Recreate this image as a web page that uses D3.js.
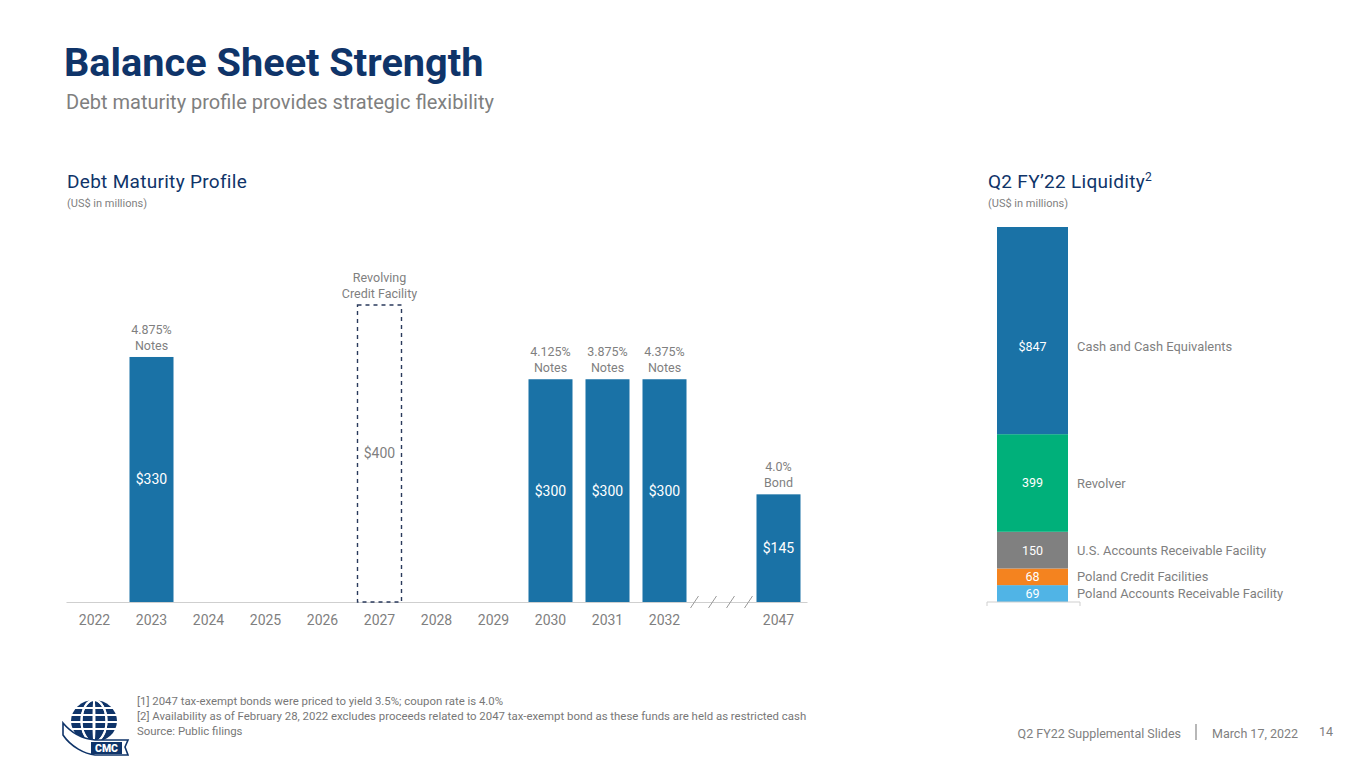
<!DOCTYPE html>
<html><head><meta charset="utf-8">
<script src="https://cdn.jsdelivr.net/npm/d3@7"></script>
<style>
html,body{margin:0;padding:0;background:#fff;}
svg{display:block;font-family:Roboto, "Open Sans", sans-serif;}
</style></head>
<body>
<svg id="c" width="1365" height="768"></svg>
<script>
// ---- data ----
const years = ["2022","2023","2024","2025","2026","2027","2028","2029","2030","2031","2032","break","2047"];
const debtYears = ["2023","2027","2030","2031","2032","2047"];
const debtValues = [330, 400, 300, 300, 300, 145];
const debtLabels = ["$330","$400","$300","$300","$300","$145"];
const debtNotes = [["4.875%","Notes"],["Revolving","Credit Facility"],["4.125%","Notes"],["3.875%","Notes"],["4.375%","Notes"],["4.0%","Bond"]];
const debtIsRevolver = [false,true,false,false,false,false];

const liqNames = ["Poland Accounts Receivable Facility","Poland Credit Facilities","U.S. Accounts Receivable Facility","Revolver","Cash and Cash Equivalents"];
const liqValues = [69, 68, 150, 399, 847];
const liqLabels = ["69","68","150","399","$847"];
const liqColors = ["#50b4e6","#f4831f","#808080","#00b07a","#1a72a6"];

const footnotes = ["[1] 2047 tax-exempt bonds were priced to yield 3.5%; coupon rate is 4.0%",
 "[2] Availability as of February 28, 2022 excludes proceeds related to 2047 tax-exempt bond as these funds are held as restricted cash",
 "Source: Public filings"];

const svg = d3.select("#c");
const NAVY = "#0f3469", GRAY = "#7f7f7f", BLUE = "#1a72a6";

// ---- titles ----
svg.append("text").attr("x",64).attr("y",76).attr("font-size",39.7).attr("font-weight",700).attr("fill",NAVY).text("Balance Sheet Strength");
svg.append("text").attr("x",66).attr("y",109).attr("font-size",20).attr("fill",GRAY).text("Debt maturity profile provides strategic flexibility");

svg.append("text").attr("x",67).attr("y",188).attr("font-size",19).attr("fill",NAVY).attr("letter-spacing",0.3).text("Debt Maturity Profile");
svg.append("text").attr("x",67).attr("y",207).attr("font-size",11).attr("fill",GRAY).text("(US$ in millions)");

const lt = svg.append("text").attr("x",988).attr("y",188).attr("font-size",19).attr("fill",NAVY).attr("letter-spacing",0.3);
lt.append("tspan").text("Q2 FY\u201922 Liquidity");
lt.append("tspan").attr("font-size",12).attr("dy",-7).text("2");
svg.append("text").attr("x",988).attr("y",207).attr("font-size",11).attr("fill",GRAY).text("(US$ in millions)");

// ---- left chart ----
const x = d3.scaleBand().domain(years).range([66,807]).paddingInner(0.228).paddingOuter(0.114);
const y = d3.scaleLinear().domain([0,400]).range([602,305]);

const ax = svg.append("g").attr("transform","translate(0,602)")
  .call(d3.axisBottom(x).tickSize(0).tickPadding(13).tickFormat(d => d==="break" ? "" : d));
ax.select(".domain").attr("stroke","#cfcfcf").attr("stroke-width",1);
ax.selectAll("text").attr("font-size",14).attr("fill",GRAY).attr("font-family","Roboto, sans-serif");

// break slashes
const bc = x("break") + x.bandwidth()/2;
[-1.5,-0.5,0.5,1.5].forEach(k => {
  const cx = bc + k*18;
  svg.append("line").attr("x1",cx-4).attr("y1",608).attr("x2",cx+4).attr("y2",596)
    .attr("stroke","#9a9a9a").attr("stroke-width",1);
});

const bars = svg.append("g");
debtYears.forEach((yr,i) => {
  const v = debtValues[i];
  const bxp = x(yr), w = x.bandwidth();
  if (debtIsRevolver[i]) {
    bars.append("rect").attr("x",bxp).attr("y",y(v)).attr("width",w).attr("height",y(0)-y(v))
      .attr("fill","none").attr("stroke","#2a3a5c").attr("stroke-width",1.4).attr("stroke-dasharray","4,4");
  } else {
    bars.append("rect").attr("x",bxp).attr("y",y(v)).attr("width",w).attr("height",y(0)-y(v)).attr("fill",BLUE);
  }
  bars.append("text").attr("x",bxp+w/2).attr("y",(y(v)+y(0))/2).attr("dy","0.35em")
    .attr("text-anchor","middle").attr("font-size",14).attr("fill",debtIsRevolver[i]?GRAY:"#fff").text(debtLabels[i]);
  debtNotes[i].forEach((t,j) => {
    bars.append("text").attr("x",bxp+w/2).attr("y",y(v)-7-(1-j)*16)
      .attr("text-anchor","middle").attr("font-size",12.5).attr("fill",GRAY).text(t);
  });
});

// ---- right chart (stacked) ----
const total = d3.sum(liqValues);
const y2 = d3.scaleLinear().domain([0,total]).range([602,227]);
const bx2 = 997, bw2 = 71;
let cum = 0;
const rg = svg.append("g");
liqValues.forEach((v,i) => {
  const y0 = y2(cum), y1 = y2(cum+v);
  rg.append("rect").attr("x",bx2).attr("y",y1).attr("width",bw2).attr("height",y0-y1).attr("fill",liqColors[i]);
  const mid = (y0+y1)/2 + (i===liqValues.length-1 ? 16 : 0);
  rg.append("text").attr("x",bx2+bw2/2).attr("y",mid).attr("dy","0.35em").attr("text-anchor","middle")
    .attr("font-size",12.5).attr("fill","#fff").text(liqLabels[i]);
  rg.append("text").attr("x",1077).attr("y",mid).attr("dy","0.35em")
    .attr("font-size",12.9).attr("fill",GRAY).text(liqNames[i]);
  cum += v;
});
rg.append("line").attr("x1",987).attr("x2",1080).attr("y1",602).attr("y2",602).attr("stroke","#cfcfcf");
rg.append("line").attr("x1",987).attr("x2",987).attr("y1",602).attr("y2",606).attr("stroke","#cfcfcf");
rg.append("line").attr("x1",1080).attr("x2",1080).attr("y1",602).attr("y2",606).attr("stroke","#cfcfcf");

// ---- footnotes ----
footnotes.forEach((t,i) => {
  svg.append("text").attr("x",137).attr("y",705+i*15).attr("font-size",11.4).attr("fill","#777").text(t);
});

// ---- footer ----
svg.append("text").attr("x",1181).attr("y",738).attr("text-anchor","end").attr("font-size",12.5).attr("fill",GRAY).text("Q2 FY22 Supplemental Slides");
svg.append("line").attr("x1",1196).attr("x2",1196).attr("y1",724).attr("y2",740).attr("stroke","#888").attr("stroke-width",1.2);
svg.append("text").attr("x",1212).attr("y",738).attr("font-size",12.5).attr("fill",GRAY).text("March 17, 2022");
svg.append("text").attr("x",1319).attr("y",736).attr("font-size",12.5).attr("fill",GRAY).text("14");

// ---- logo ----
const lg = svg.append("g").attr("transform","translate(94,721)");
lg.append("ellipse").attr("rx",23).attr("ry",21).attr("fill",NAVY);
[-13,-6,1,8].forEach(d => lg.append("line").attr("x1",-24).attr("x2",24).attr("y1",d).attr("y2",d).attr("stroke","#fff").attr("stroke-width",2));
[-12,0,12].forEach(d => lg.append("ellipse").attr("cx",0).attr("cy",0).attr("rx",Math.abs(d)+0.5).attr("ry",21).attr("fill","none").attr("stroke","#fff").attr("stroke-width",2));
lg.append("line").attr("x1",0).attr("x2",0).attr("y1",-21).attr("y2",21).attr("stroke","#fff").attr("stroke-width",2);
lg.append("path").attr("d","M-31,2 C-21,14 -9,18 1,19 L34,19 L31,26 L34,34 L1,34 C-9,33 -23,26 -31,14 Z")
  .attr("fill","#fff").attr("stroke",NAVY).attr("stroke-width",1.6);
lg.append("rect").attr("x",-3).attr("y",21).attr("width",31).attr("height",12).attr("fill",NAVY);
lg.append("text").attr("x",12.5).attr("y",31).attr("text-anchor","middle").attr("font-size",10.5).attr("font-weight",900).attr("fill","#fff").text("CMC");
</script>
</body></html>
